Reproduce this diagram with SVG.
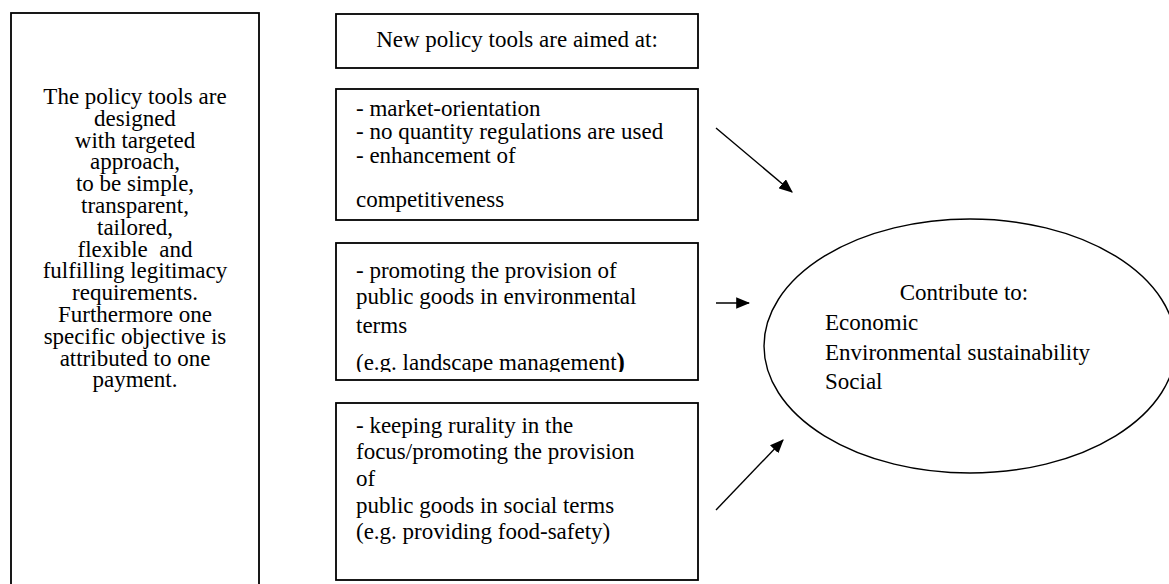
<svg xmlns="http://www.w3.org/2000/svg" width="1169" height="584" viewBox="0 0 1169 584">
<style>
.box{fill:#fff;stroke:#000;stroke-width:1.8}
.t{font-family:"Liberation Serif","Times New Roman",serif;font-size:23px;fill:#000}
.c{text-anchor:middle}
.con{stroke:#000;stroke-width:1.4;fill:none}
</style>
<defs>
<marker id="ah" viewBox="0 0 12 10" refX="11" refY="5" markerWidth="14" markerHeight="12" markerUnits="userSpaceOnUse" orient="auto"><path d="M0,0 L12,5 L0,10 z" fill="#000"/></marker>
<clipPath id="clipEnv"><rect x="336" y="243" width="362" height="129"/></clipPath>
</defs>
<rect width="1169" height="584" fill="#fff"/>
<g id="left-box">
<rect class="box" x="11" y="13" width="248" height="600"/>
<text class="t c" x="135" y="104">The policy tools are</text>
<text class="t c" x="135" y="126">designed</text>
<text class="t c" x="135" y="148">with targeted</text>
<text class="t c" x="135" y="169">approach,</text>
<text class="t c" x="135" y="191">to be simple,</text>
<text class="t c" x="135" y="213">transparent,</text>
<text class="t c" x="135" y="235">tailored,</text>
<text class="t c" x="135" y="257" xml:space="preserve">flexible  and</text>
<text class="t c" x="135" y="278">fulfilling legitimacy</text>
<text class="t c" x="135" y="300">requirements.</text>
<text class="t c" x="135" y="322">Furthermore one</text>
<text class="t c" x="135" y="344">specific objective is</text>
<text class="t c" x="135" y="366">attributed to one</text>
<text class="t c" x="135" y="387">payment.</text>
</g>
<g id="header-box">
<rect class="box" x="336" y="14" width="362" height="54"/>
<text class="t c" x="517" y="47">New policy tools are aimed at:</text>
</g>
<g id="market-box">
<rect class="box" x="336" y="89" width="362" height="131"/>
<text class="t" x="356" y="116">- market-orientation</text>
<text class="t" x="356" y="139">- no quantity regulations are used</text>
<text class="t" x="356" y="163">- enhancement of</text>
<text class="t" x="356" y="207">competitiveness</text>
</g>
<g id="environment-box">
<rect class="box" x="336" y="243" width="362" height="137"/>
<g clip-path="url(#clipEnv)">
<text class="t" x="356" y="278">- promoting the provision of</text>
<text class="t" x="356" y="304">public goods in environmental</text>
<text class="t" x="356" y="333">terms</text>
<text class="t" x="356" y="370">(e.g. landscape management<tspan font-weight="bold" font-size="25">)</tspan></text>
</g>
</g>
<g id="social-box">
<rect class="box" x="336" y="403" width="362" height="177"/>
<text class="t" x="356" y="433">- keeping rurality in the</text>
<text class="t" x="356" y="459">focus/promoting the provision</text>
<text class="t" x="356" y="486">of</text>
<text class="t" x="356" y="513">public goods in social terms</text>
<text class="t" x="356" y="539">(e.g. providing food-safety)</text>
</g>
<g id="contribute-ellipse">
<ellipse cx="970" cy="346" rx="206" ry="127" fill="#fff" stroke="#000" stroke-width="1.4"/>
<text class="t c" x="964" y="300">Contribute to:</text>
<text class="t" x="825" y="330">Economic</text>
<text class="t" x="825" y="360">Environmental sustainability</text>
<text class="t" x="825" y="389">Social</text>
</g>
<g id="connectors">
<line class="con" x1="716" y1="128" x2="792" y2="192" marker-end="url(#ah)"/>
<line class="con" x1="716" y1="303" x2="749" y2="303" marker-end="url(#ah)"/>
<line class="con" x1="716" y1="510" x2="783" y2="440" marker-end="url(#ah)"/>
</g>
</svg>
